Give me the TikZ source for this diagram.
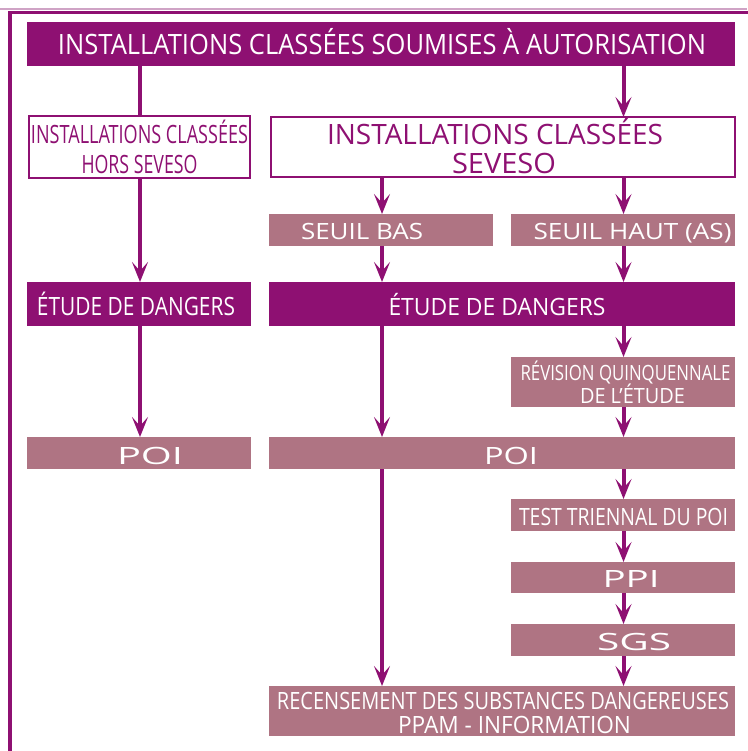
\documentclass[tikz,border=0pt]{standalone}
\usepackage{fontspec}
\usepackage{graphicx}
\setmainfont{Open Sans}
\usetikzlibrary{arrows.meta}
\definecolor{dpur}{HTML}{8E1072}
\definecolor{mauve}{HTML}{AF7483}
\definecolor{lpur}{HTML}{CFA3C5}
\newcommand\fitT[3]{\fontsize{#1}{#1}\selectfont\resizebox{#2}{\height}{#3}}
\tikzset{
  boxbase/.style={inner sep=0pt, outer sep=0pt},
  darkbox/.style={boxbase, fill=dpur},
  mauvebox/.style={boxbase, fill=mauve},
  whitebox/.style={boxbase, fill=white, draw=dpur, line width=2pt},
  txtW/.style={inner sep=0pt, outer sep=0pt, anchor=base, text=white},
  txtP/.style={inner sep=0pt, outer sep=0pt, anchor=base, text=dpur},
  conn/.style={draw=dpur, line width=4pt},
  arr/.style={conn, -{Stealth[length=20pt, width=16pt, inset=9pt]}},
  framel/.style={draw=dpur, line width=3.5pt},
}
\begin{document}
\begin{tikzpicture}[x=1pt, y=-1pt]
\useasboundingbox (0,0) rectangle (747,751);
% frame
\draw[draw=lpur, line width=1.3pt] (0,9) -- (747,9);
\draw[framel] (10,760) -- (10,12.5) -- (760,12.5);
% column coordinates
\coordinate (colA) at (140,0);
\coordinate (colB) at (382,0);
\coordinate (colC) at (623.5,0);
% boxes
\node[darkbox, minimum width=708pt, minimum height=44pt] (hdr) at (381,44) {};
\node[whitebox, minimum width=221pt, minimum height=62pt] (hors) at (139.5,147) {};
\node[whitebox, minimum width=464pt, minimum height=60pt] (seveso) at (503,147) {};
\node[mauvebox, minimum width=224pt, minimum height=32pt] (seuilB) at (381,230) {};
\node[mauvebox, minimum width=224pt, minimum height=32pt] (seuilH) at (623,230) {};
\node[darkbox, minimum width=224pt, minimum height=44pt] (etudeL) at (139,304) {};
\node[darkbox, minimum width=466pt, minimum height=44pt] (etudeR) at (502,304) {};
\node[mauvebox, minimum width=224pt, minimum height=50pt] (revis) at (623,382) {};
\node[mauvebox, minimum width=224pt, minimum height=32pt] (poiL) at (139,453) {};
\node[mauvebox, minimum width=466pt, minimum height=32pt] (poiR) at (502,453) {};
\node[mauvebox, minimum width=224pt, minimum height=32pt] (test) at (623,515) {};
\node[mauvebox, minimum width=224pt, minimum height=31pt] (ppi) at (623,577.5) {};
\node[mauvebox, minimum width=224pt, minimum height=32pt] (sgs) at (623,640) {};
\node[mauvebox, minimum width=466pt, minimum height=50pt] (rec) at (502,711) {};
% texts
\node[txtW] (hdr-t) at (382,54.3) {\fitT{28}{648pt}{INSTALLATIONS CLASSÉES SOUMISES À AUTORISATION}};
\node[txtP] (hors-t1) at (139.5,143.3) {\fitT{25.2}{217pt}{INSTALLATIONS CLASSÉES}};
\node[txtP] (hors-t2) at (139.5,173.3) {\fitT{25.2}{116pt}{HORS SEVESO}};
\node[txtP] (seveso-t1) at (495,144.3) {\fitT{28}{336pt}{INSTALLATIONS CLASSÉES}};
\node[txtP] (seveso-t2) at (504,173.3) {\fitT{28}{104pt}{SEVESO}};
\node[txtW] (seuilB-t) at (362,240) {\fitT{22.4}{122pt}{SEUIL BAS}};
\node[txtW] (seuilH-t) at (632.5,240) {\fitT{22.4}{198pt}{SEUIL HAUT (AS)}};
\node[txtW] (etudeL-t) at (136,315) {\fitT{25.2}{198pt}{ÉTUDE DE DANGERS}};
\node[txtW] (etudeR-t) at (497,315.7) {\fitT{23.8}{217pt}{ÉTUDE DE DANGERS}};
\node[txtW] (revis-t1) at (625.5,380) {\fitT{21}{210pt}{RÉVISION QUINQUENNALE}};
\node[txtW] (revis-t2) at (632.5,403.3) {\fitT{21}{105pt}{DE L’ÉTUDE}};
\node[txtW] (poiL-t) at (150,464) {\fitT{23.8}{66pt}{POI}};
\node[txtW] (poiR-t) at (511,464) {\fitT{23.8}{54pt}{POI}};
\node[txtW] (test-t) at (623.5,525.7) {\fitT{23.8}{209pt}{TEST TRIENNAL DU POI}};
\node[txtW] (ppi-t) at (631,587.3) {\fitT{23.8}{57pt}{PPI}};
\node[txtW] (sgs-t) at (634,650) {\fitT{23.8}{74pt}{SGS}};
\node[txtW] (rec-t1) at (503,709) {\fitT{23.8}{452pt}{RECENSEMENT DES SUBSTANCES DANGEREUSES}};
\node[txtW] (rec-t2) at (514.5,733.3) {\fitT{23.8}{233pt}{PPAM - INFORMATION}};
% connectors
\draw[conn] (hdr.south -| colA) -- (hors.north -| colA);
\draw[arr] (hdr.south -| colC) -- (seveso.north -| colC);
\draw[arr] (hors.south -| colA) -- (etudeL.north -| colA);
\draw[arr] (seveso.south -| colB) -- (seuilB.north -| colB);
\draw[arr] (seveso.south -| colC) -- (seuilH.north -| colC);
\draw[arr] (seuilB.south -| colB) -- (etudeR.north -| colB);
\draw[arr] (seuilH.south -| colC) -- (etudeR.north -| colC);
\draw[arr] (etudeL.south -| colA) -- (poiL.north -| colA);
\draw[arr] (etudeR.south -| colB) -- (poiR.north -| colB);
\draw[arr] (etudeR.south -| colC) -- (revis.north -| colC);
\draw[arr] (revis.south -| colC) -- (poiR.north -| colC);
\draw[arr] (poiR.south -| colB) -- (rec.north -| colB);
\draw[arr] (poiR.south -| colC) -- (test.north -| colC);
\draw[arr] (test.south -| colC) -- (ppi.north -| colC);
\draw[arr] (ppi.south -| colC) -- (sgs.north -| colC);
\draw[arr] (sgs.south -| colC) -- (rec.north -| colC);
\end{tikzpicture}
\end{document}
